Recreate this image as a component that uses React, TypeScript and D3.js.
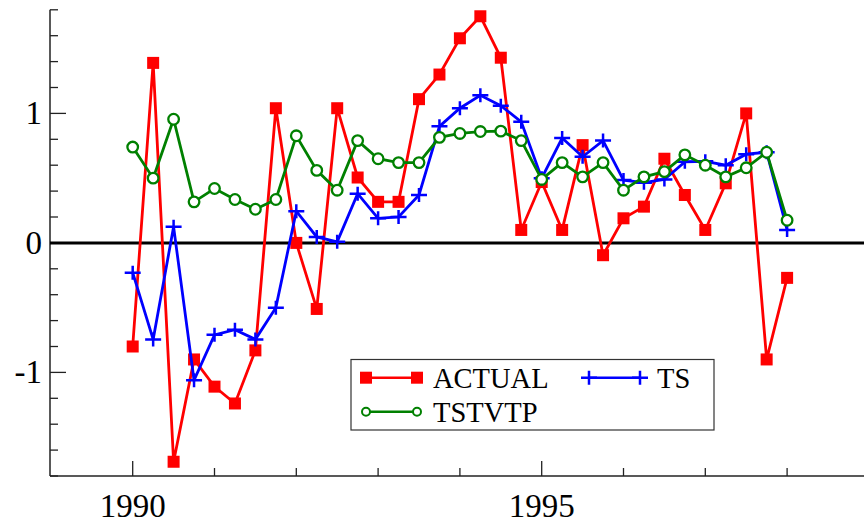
import React from "react";
import * as d3 from "d3";

const quarters: number[] = [
  1990.0, 1990.25, 1990.5, 1990.75, 1991.0, 1991.25, 1991.5, 1991.75,
  1992.0, 1992.25, 1992.5, 1992.75, 1993.0, 1993.25, 1993.5, 1993.75,
  1994.0, 1994.25, 1994.5, 1994.75, 1995.0, 1995.25, 1995.5, 1995.75,
  1996.0, 1996.25, 1996.5, 1996.75, 1997.0, 1997.25, 1997.5, 1997.75,
  1998.0,
];

const actual: number[] = [
  -0.8, 1.39, -1.69, -0.9, -1.11, -1.24, -0.83, 1.04,
  0.0, -0.51, 1.04, 0.505, 0.317, 0.317, 1.11, 1.3,
  1.58, 1.75, 1.43, 0.1, 0.47, 0.1, 0.755, -0.095,
  0.19, 0.28, 0.65, 0.37, 0.1, 0.46, 1.0, -0.9,
  -0.27,
];

const ts: number[] = [
  -0.23, -0.745, 0.124, -1.06, -0.71, -0.67, -0.745, -0.5,
  0.245, 0.046, 0.008, 0.38, 0.19, 0.2, 0.37, 0.9,
  1.04, 1.14, 1.06, 0.935, 0.5, 0.81, 0.665, 0.79,
  0.485, 0.465, 0.49, 0.626, 0.63, 0.6, 0.685, 0.7,
  0.1,
];

const tstvtp: number[] = [
  0.74, 0.5, 0.955, 0.317, 0.42, 0.335, 0.26, 0.335,
  0.827, 0.56, 0.407, 0.79, 0.65, 0.62, 0.62, 0.815,
  0.845, 0.86, 0.863, 0.79, 0.49, 0.62, 0.51, 0.62,
  0.407, 0.51, 0.55, 0.68, 0.6, 0.51, 0.58, 0.7,
  0.175,
];

const yLabelTicks: number[] = [-1, 0, 1];
const xLabelTicks: number[] = [1990, 1995];
const seriesNames: string[] = ["ACTUAL", "TS", "TSTVTP"];

const FONT =
  "'Liberation Serif', 'Times New Roman', Times, 'Nimbus Roman', 'Nimbus Roman No9 L', 'FreeSerif', 'Noto Serif', 'DejaVu Serif', serif";

export default function App() {
  const W = 864;
  const H = 528;
  const x = d3.scaleLinear().domain([1989, 1999]).range([50.9, 868.9]);
  const y = d3.scaleLinear().domain([-1.8, 1.8]).range([476, 9.8]);
  const left = 50;
  const bottom = 476;

  const line = d3
    .line<[number, number]>()
    .x((d) => x(d[0]))
    .y((d) => y(d[1]));

  const ptsA = quarters.map((q, i) => [q, actual[i]] as [number, number]);
  const ptsT = quarters.map((q, i) => [q, ts[i]] as [number, number]);
  const ptsG = quarters.map((q, i) => [q, tstvtp[i]] as [number, number]);

  const yTicks = d3.range(-18, 19, 2).map((v) => v / 10);
  const xTicks = d3.range(1990, 1999, 1);

  const red = "#ff0000";
  const blue = "#0000ff";
  const green = "#008000";

  const square = (cx: number, cy: number, k: string) => (
    <rect key={k} x={cx - 6} y={cy - 6} width={12} height={12} fill={red} />
  );
  const plus = (cx: number, cy: number, k: string) => (
    <path
      key={k}
      d={`M${cx - 8},${cy}H${cx + 8}M${cx},${cy - 7}V${cy + 7}`}
      stroke={blue}
      strokeWidth={2.5}
      fill="none"
    />
  );
  const circle = (cx: number, cy: number, k: string) => (
    <circle key={k} cx={cx} cy={cy} r={5.3} stroke={green} strokeWidth={2.3} fill="white" />
  );

  const textStyle = { fontFamily: FONT } as React.CSSProperties;

  return (
    <svg
      width={W}
      height={H}
      style={{ position: "absolute", left: 0, top: 0, background: "white" }}
    >
      {/* axes */}
      <line x1={left} x2={left} y1={y(1.8)} y2={bottom} stroke="#222" strokeWidth={1.5} />
      <line x1={left} x2={W} y1={bottom} y2={bottom} stroke="#222" strokeWidth={1.5} />
      {yTicks.map((v) => {
        const major = Math.abs(v - Math.round(v)) < 1e-6;
        return (
          <line
            key={"yt" + v}
            x1={left}
            x2={left + (major ? 16 : 8)}
            y1={y(v)}
            y2={y(v)}
            stroke="#222"
            strokeWidth={1.3}
          />
        );
      })}
      {xTicks.map((v) => {
        const major = v % 5 === 0;
        return (
          <line
            key={"xt" + v}
            x1={x(v)}
            x2={x(v)}
            y1={bottom}
            y2={bottom - (major ? 15 : 8)}
            stroke="#222"
            strokeWidth={1.3}
          />
        );
      })}
      {yLabelTicks.map((v) => (
        <text
          key={"yl" + v}
          x={42}
          y={y(v) + 11}
          textAnchor="end"
          style={textStyle}
          fontSize={33}
          fill="#000"
        >
          {v}
        </text>
      ))}
      {xLabelTicks.map((v) => (
        <text
          key={"xl" + v}
          x={x(v)}
          y={517}
          textAnchor="middle"
          style={textStyle}
          fontSize={33}
          fill="#000"
        >
          {v}
        </text>
      ))}
      {/* zero line */}
      <line x1={left} x2={W} y1={y(0)} y2={y(0)} stroke="#000" strokeWidth={3} />

      {/* series */}
      <path d={line(ptsA) || ""} stroke={red} strokeWidth={2.8} fill="none" />
      {ptsA.map((d, i) => square(x(d[0]), y(d[1]), "a" + i))}
      <path d={line(ptsT) || ""} stroke={blue} strokeWidth={2.8} fill="none" />
      {ptsT.map((d, i) => plus(x(d[0]), y(d[1]), "t" + i))}
      <path d={line(ptsG) || ""} stroke={green} strokeWidth={2.8} fill="none" />
      {ptsG.map((d, i) => circle(x(d[0]), y(d[1]), "g" + i))}

      {/* legend */}
      <rect x={351} y={359.5} width={363} height={70.5} fill="white" stroke="#333" strokeWidth={1.2} />
      <line x1={366} x2={417} y1={377.7} y2={377.7} stroke={red} strokeWidth={2.5} />
      {square(366, 377.7, "la1")}
      {square(417, 377.7, "la2")}
      <text x={433} y={387.5} style={textStyle} fontSize={28.5} fill="#000">
        {seriesNames[0]}
      </text>
      <line x1={589} x2={640} y1={377.7} y2={377.7} stroke={blue} strokeWidth={2.5} />
      {plus(589, 377.7, "lt1")}
      {plus(640, 377.7, "lt2")}
      <text x={657} y={387.5} style={textStyle} fontSize={28.5} fill="#000">
        {seriesNames[1]}
      </text>
      <line x1={366} x2={417} y1={411.7} y2={411.7} stroke={green} strokeWidth={2.5} />
      <circle cx={366} cy={411.7} r={4} stroke={green} strokeWidth={2} fill="white" />
      <circle cx={417} cy={411.7} r={4} stroke={green} strokeWidth={2} fill="white" />
      <text x={433} y={421.5} style={textStyle} fontSize={28.5} fill="#000">
        {seriesNames[2]}
      </text>
    </svg>
  );
}
